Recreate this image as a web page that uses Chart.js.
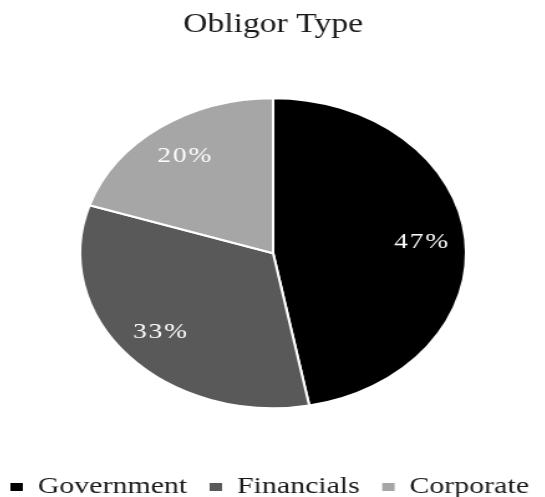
<!DOCTYPE html>
<html>
<head>
<meta charset="utf-8">
<script src="https://cdn.jsdelivr.net/npm/chart.js@4.4.0/dist/chart.umd.min.js"></script>
<style>
  html, body { margin: 0; padding: 0; background: #ffffff; overflow: hidden; width: 545px; height: 497px; }
  #wrap { position: absolute; left: -12.45px; top: 0; width: 458px; height: 509px; transform: scaleX(1.245); transform-origin: 0 0; }
</style>
</head>
<body>
<div id="wrap"><canvas id="c"></canvas></div>
<script>
const chartTitle = 'Obligor Type';
const categories = ['Government', 'Financials', 'Corporate'];
const shares = [47, 33, 20];
const sliceColors = ['#000000', '#595959', '#a6a6a6'];

const pctLabels = {
  id: 'pctLabels',
  afterDatasetsDraw(chart) {
    const ctx = chart.ctx;
    const meta = chart.getDatasetMeta(0);
    ctx.save();
    ctx.font = '22px "Liberation Serif"';
    if ('letterSpacing' in ctx) ctx.letterSpacing = '1.5px';
    ctx.fillStyle = '#ffffff';
    ctx.textAlign = 'center';
    ctx.textBaseline = 'middle';
    meta.data.forEach((arc, i) => {
      const p = arc.getProps(['x', 'y', 'startAngle', 'endAngle', 'outerRadius'], true);
      const mid = (p.startAngle + p.endAngle) / 2;
      const r = p.outerRadius * 0.775;
      ctx.fillText(shares[i] + '%', p.x + Math.cos(mid) * r, p.y + Math.sin(mid) * r);
    });
    ctx.restore();
  }
};

new Chart(document.getElementById('c'), {
  type: 'pie',
  data: {
    labels: categories,
    datasets: [{
      data: shares,
      backgroundColor: sliceColors,
      borderColor: '#ffffff',
      borderWidth: 2,
      radius: 155,
      hoverOffset: 0
    }]
  },
  options: {
    responsive: true,
    maintainAspectRatio: false,
    animation: false,
    events: [],
    layout: { padding: 0 },
    plugins: {
      title: {
        display: true,
        text: chartTitle,
        color: '#1a1a1a',
        font: { family: '"Liberation Serif", "Times New Roman", serif', size: 27, weight: 'normal', lineHeight: 1.2 },
        padding: { top: 9, bottom: 8 }
      },
      legend: {
        display: true,
        position: 'bottom',
        align: 'start',
        labels: {
          color: '#1a1a1a',
          font: { family: '"Liberation Serif", "Times New Roman", serif', size: 24 },
          boxWidth: 10,
          boxHeight: 8,
          padding: 18,
          generateLabels(chart) {
            const items = Chart.overrides.pie.plugins.legend.labels.generateLabels(chart);
            items.forEach(it => { it.lineWidth = 0; });
            return items;
          }
        }
      },
      tooltip: { enabled: false }
    }
  },
  plugins: [pctLabels]
});
</script>
</body>
</html>
